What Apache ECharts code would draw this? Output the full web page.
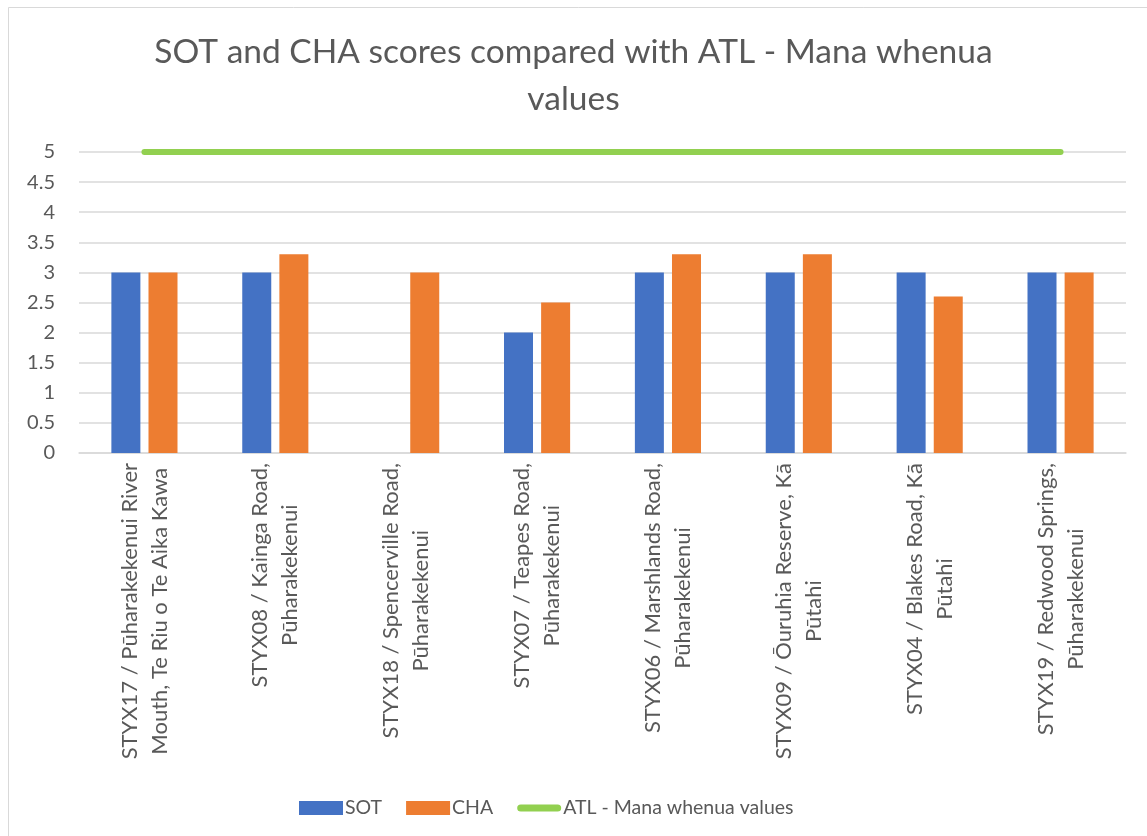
<!DOCTYPE html>
<html>
<head>
<meta charset="utf-8">
<title>SOT and CHA scores</title>
<script src="https://cdn.jsdelivr.net/npm/echarts@6/dist/echarts.min.js"></script>
<style>
    html, body { margin: 0; padding: 0; background: #fff; }
    #myChart { width: 1147px; height: 836px; }
</style>
</head>
<body>
<div id="myChart"></div>
<script>
    // categories (site names wrap onto two lines like the original)
    var categories = [
        'STYX17 / Pūharakekenui River\nMouth, Te Riu o Te Aika Kawa',
        'STYX08 / Kainga Road,\nPūharakekenui',
        'STYX18 / Spencerville Road,\nPūharakekenui',
        'STYX07 / Teapes Road,\nPūharakekenui',
        'STYX06 / Marshlands Road,\nPūharakekenui',
        'STYX09 / Ōuruhia Reserve, Kā\nPūtahi',
        'STYX04 / Blakes Road, Kā\nPūtahi',
        'STYX19 / Redwood Springs,\nPūharakekenui'
    ];
    var sotValues = [3, 3, null, 2, 3, 3, 3, 3];
    var chaValues = [3, 3.3, 3, 2.5, 3.3, 3.3, 2.6, 3];
    var atlValues = [5, 5, 5, 5, 5, 5, 5, 5];

    var textColor = '#595959';
    var font = 'Lato';

    var myChart = echarts.init(document.getElementById('myChart'));
    var option = {
        backgroundColor: '#fff',
        color: ['#4472C4', '#ED7D31', '#92D050'],
        textStyle: { fontFamily: font },
        title: {
            text: 'SOT and CHA scores compared with ATL - Mana whenua\nvalues',
            left: 'center',
            top: 24,
            textStyle: {
                fontFamily: font,
                fontWeight: 'normal',
                fontSize: 33.5,
                lineHeight: 47,
                color: textColor
            }
        },
        // thin frame round the chart area
        graphic: [{
            type: 'rect',
            shape: { x: 8.5, y: 7.5, width: 1200, height: 900 },
            style: { fill: null, stroke: '#d9d9d9', lineWidth: 1 },
            silent: true
        }],
        grid: {
            left: 79,
            right: 21,
            top: 152,
            bottom: 383
        },
        legend: {
            left: 294,
            top: 793,
            itemWidth: 44,
            itemHeight: 14,
            itemGap: 24,
            textStyle: { fontFamily: font, fontSize: 19.5, color: textColor, padding: [0, 0, 0, -3] },
            data: [
                { name: 'SOT', icon: 'rect' },
                { name: 'CHA', icon: 'rect' },
                { name: 'ATL - Mana whenua values', icon: 'path://M4,0 H45 A4,4 0 0 1 45,8 H4 A4,4 0 0 1 4,0 Z' }
            ]
        },
        xAxis: {
            type: 'category',
            data: categories,
            axisLine: { lineStyle: { color: '#d9d9d9', width: 1.5 } },
            axisTick: { show: false },
            axisLabel: {
                interval: 0,
                rotate: 90,
                margin: 10,
                formatter: function (value) {
                    return value.split('\n').map(function (s) { return '{c|' + s + '}'; }).join('\n');
                },
                rich: {
                    c: {
                        align: 'center',
                        fontFamily: font,
                        fontSize: 22,
                        lineHeight: 30,
                        color: textColor
                    }
                }
            }
        },
        yAxis: {
            type: 'value',
            min: 0,
            max: 5,
            interval: 0.5,
            axisLine: { show: false },
            axisTick: { show: false },
            splitLine: { lineStyle: { color: '#d9d9d9', width: 1.5 } },
            axisLabel: {
                margin: 24,
                fontFamily: font,
                fontSize: 20,
                color: textColor
            }
        },
        series: [
            {
                name: 'SOT',
                type: 'bar',
                barWidth: 29,
                barGap: '28%',
                data: sotValues
            },
            {
                name: 'CHA',
                type: 'bar',
                barWidth: 29,
                barGap: '28%',
                data: chaValues
            },
            {
                name: 'ATL - Mana whenua values',
                type: 'line',
                symbol: 'none',
                lineStyle: { width: 6, color: '#92D050', cap: 'round' },
                data: atlValues
            }
        ]
    };
    myChart.setOption(option);
</script>
</body>
</html>
